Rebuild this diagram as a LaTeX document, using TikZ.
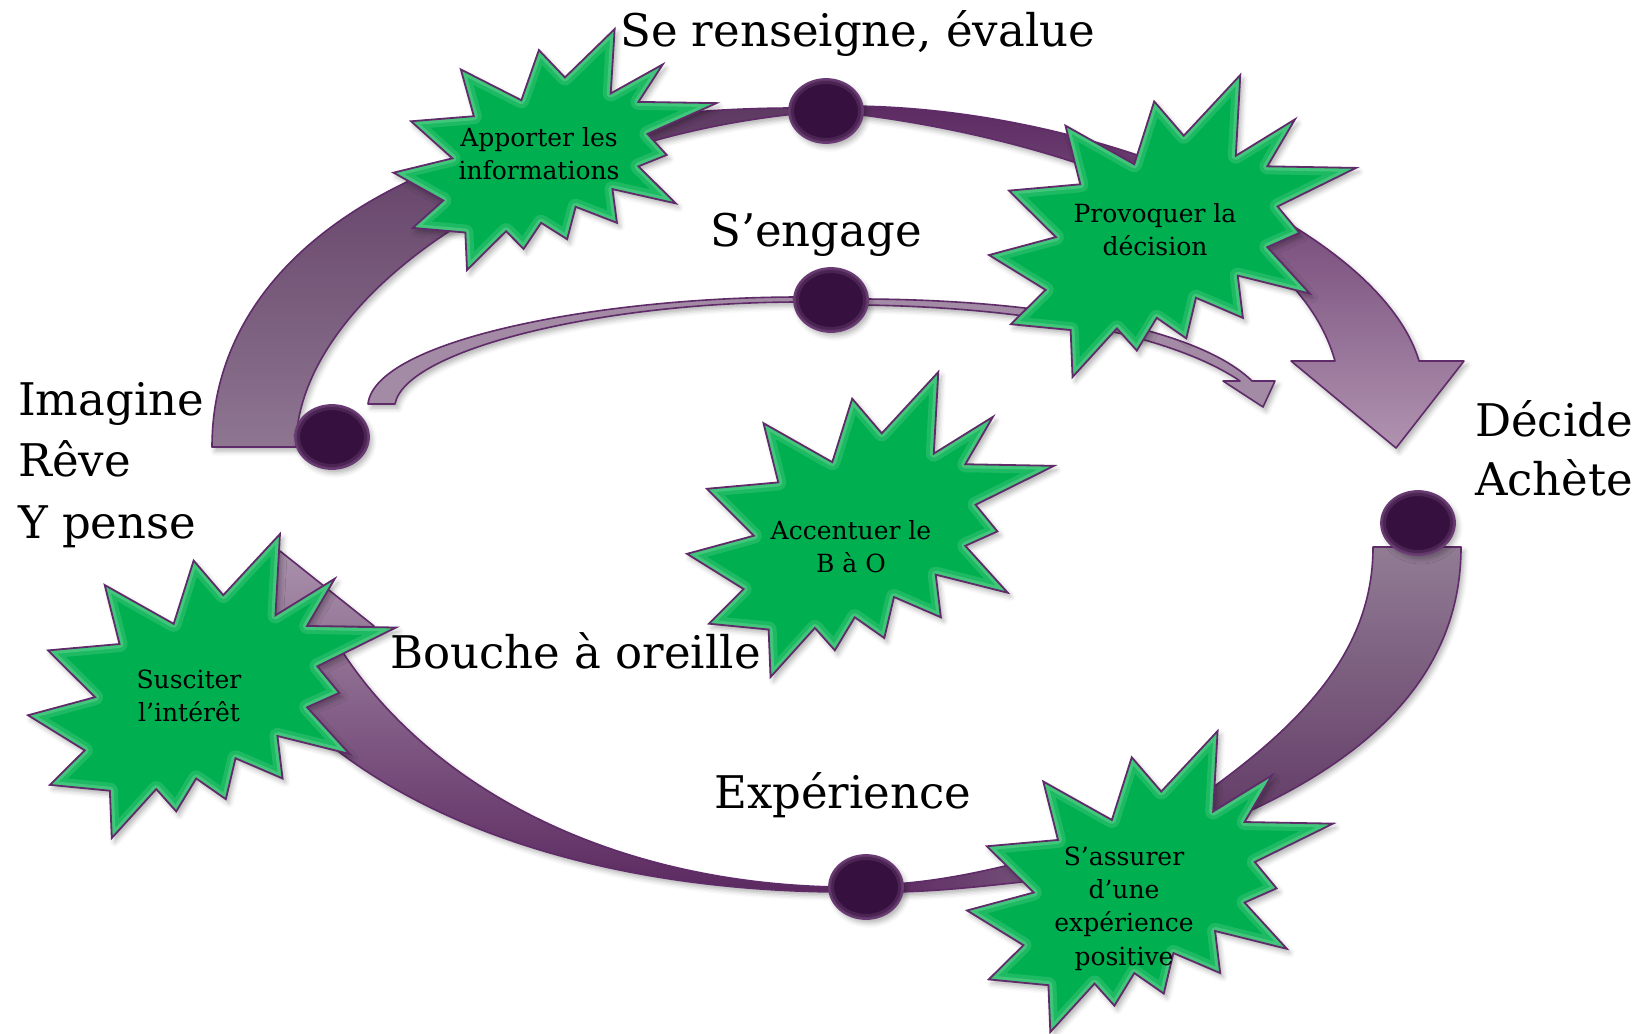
\documentclass[tikz,border=0pt]{standalone}
\usepackage{fontspec}
\setmainfont{DejaVu Serif}
\usetikzlibrary{shapes.geometric,shadows.blur}

\definecolor{edge}{HTML}{5F2B68}
\definecolor{starfill}{HTML}{00B050}
\definecolor{starlight}{HTML}{B8F0C8}
\definecolor{dotfill}{HTML}{36103E}
\definecolor{dotedge}{HTML}{6A3A74}
\definecolor{dotrim}{HTML}{8A6394}
\definecolor{lTop}{HTML}{5E3A62}
\definecolor{lBot}{HTML}{8E7691}
\definecolor{trTop}{HTML}{5C2B62}
\definecolor{trBot}{HTML}{B093B0}
\definecolor{rTop}{HTML}{917C94}
\definecolor{rBot}{HTML}{5E3562}
\definecolor{blTop}{HTML}{A991AB}
\definecolor{blBot}{HTML}{5B2960}
\definecolor{brLeft}{HTML}{5E2B63}
\definecolor{brRight}{HTML}{7A5A7E}
\definecolor{thinfill}{HTML}{A38BA6}

% Explosion outline (irregular seal) inside the box x0,y0,w,h (y grows downwards)
\newcommand\sealpath[4]{%
({#1+0.53065*#3},{#2+0.20102*#4}) --
({#1+0.68472*#3},{#2}) --
({#1+0.67245*#3},{#2+0.26745*#4}) --
({#1+0.83366*#3},{#2+0.14685*#4}) --
({#1+0.75833*#3},{#2+0.30241*#4}) --
({#1+#3},{#2+0.30764*#4}) --
({#1+0.78634*#3},{#2+0.43528*#4}) --
({#1+0.84583*#3},{#2+0.52269*#4}) --
({#1+0.75833*#3},{#2+0.56991*#4}) --
({#1+0.87394*#3},{#2+0.72370*#4}) --
({#1+0.67778*#3},{#2+0.66435*#4}) --
({#1+0.69176*#3},{#2+0.80417*#4}) --
({#1+0.56389*#3},{#2+0.73773*#4}) --
({#1+0.53759*#3},{#2+0.87231*#4}) --
({#1+0.45704*#3},{#2+0.80417*#4}) --
({#1+0.40278*#3},{#2+0.91259*#4}) --
({#1+0.34847*#3},{#2+0.83912*#4}) --
({#1+0.22764*#3},{#2+#4}) --
({#1+0.22245*#3},{#2+0.84444*#4}) --
({#1+0.05949*#3},{#2+0.82523*#4}) --
({#1+0.15417*#3},{#2+0.71157*#4}) --
({#1},{#2+0.59616*#4}) --
({#1+0.18218*#3},{#2+0.53667*#4}) --
({#1+0.05426*#3},{#2+0.38287*#4}) --
({#1+0.24870*#3},{#2+0.36190*#4}) --
({#1+0.20843*#3},{#2+0.16782*#4}) --
({#1+0.39583*#3},{#2+0.29546*#4}) --
({#1+0.45009*#3},{#2+0.08736*#4}) -- cycle}

% green burst with a soft inner glow
\newcommand\burst[4]{%
  \path[starbody] \sealpath{#1}{#2}{#3}{#4};
  \begin{scope}
    \clip \sealpath{#1}{#2}{#3}{#4};
    \draw[starlight, line width=16pt, opacity=.16, line join=round] \sealpath{#1}{#2}{#3}{#4};
    \draw[starlight, line width=8pt, opacity=.24, line join=round] \sealpath{#1}{#2}{#3}{#4};
  \end{scope}
  \draw[staredge] \sealpath{#1}{#2}{#3}{#4};
}

\begin{document}
\begin{tikzpicture}[x=1pt,y=-1pt,
  softshadow/.style={blur shadow={shadow xshift=3pt, shadow yshift=-4pt,
      shadow blur radius=5pt, shadow opacity=30}},
  band/.style={draw=edge, line width=1.6pt, line join=round, softshadow},
  starbody/.style={fill=starfill, softshadow},
  staredge/.style={draw=edge, line width=1.8pt, line join=miter},
  dot/.style={ellipse, draw=dotedge, line width=1.8pt, fill=dotfill,
      minimum width=74pt, minimum height=64pt, inner sep=0pt, softshadow,
      path picture={
        \draw[dotrim, opacity=.25, line width=10pt]
          (path picture bounding box.center) ellipse (37 and 32);
        \draw[dotrim, opacity=.3, line width=4pt]
          (path picture bounding box.center) ellipse (37 and 32);}},
  big/.style={font=\fontsize{45}{54}\selectfont, inner sep=0pt, anchor=base west},
  small/.style={font=\fontsize{25}{33}\selectfont, inner sep=0pt, anchor=base}]

\useasboundingbox (0,0) rectangle (1645,1033);

% ---- curved bands ----
% left band, rising towards the top stage
\draw[band, top color=lTop, bottom color=lBot]
  (212,447) .. controls (212,242) and (443,106) .. (805,108)
  -- (805,113) .. controls (520,140) and (296,300) .. (296,447) -- cycle;

% top band ending in the big arrow towards "Décide"
\draw[band, top color=trTop, bottom color=trBot]
  (845,106) .. controls (1100,106) and (1380,230) .. (1419,361)
  -- (1464,361) -- (1396,448) -- (1291,361) -- (1335,361)
  .. controls (1290,200) and (1000,130) .. (845,113) -- cycle;

% thin band through "S'engage"
\draw[band, fill=thinfill]
  (368,404) .. controls (375,340) and (600,297) .. (800,297)
  -- (865,299) .. controls (1050,300) and (1200,330) .. (1252,381)
  -- (1275,381) -- (1263,407) -- (1223,381) -- (1240,381)
  .. controls (1180,340) and (1050,308) .. (865,305)
  -- (800,302) .. controls (600,302) and (405,350) .. (395,404) -- cycle;

% right band going down from "Achète"
\draw[band, top color=rTop, bottom color=rBot]
  (1373,547) -- (1461,547) .. controls (1461,700) and (1330,790) .. (1150,850)
  -- (1150,830) .. controls (1290,740) and (1373,660) .. (1373,547) -- cycle;

% bottom band rising back to the left with its arrow head
\draw[band, top color=blTop, bottom color=blBot]
  (835,887) .. controls (600,882) and (420,780) .. (335,640)
  -- (374,626) -- (280,551) -- (215,680) -- (255,667)
  .. controls (350,800) and (560,889) .. (835,892) -- cycle;

% short band between the bottom stage and the last burst
\draw[band, left color=brLeft, right color=brRight]
  (895,884) .. controls (950,880) and (1000,868) .. (1060,852)
  -- (1060,878) .. controls (1000,884) and (950,891) .. (895,892) -- cycle;

% ---- stage dots ----
\node[dot] (dotTop) at (826,111) {};
\node[dot] (dotEngage) at (831,300) {};
\node[dot] (dotLeft) at (332,437) {};
\node[dot] (dotRight) at (1418,523) {};
\node[dot] (dotBottom) at (866,887) {};

% ---- bursts ----
\burst{393.5}{29}{323}{241}
\burst{989}{75}{367}{302}
\burst{687}{372}{367}{305}
\burst{28}{534}{368}{304}
\burst{967}{731}{366}{301}

% ---- burst texts ----
\node[small] (infoA) at (539,146) {Apporter les};
\node[small] (infoB) at (539,179) {informations};
\node[small] (decA) at (1155,222) {Provoquer la};
\node[small] (decB) at (1155,255) {décision};
\node[small] (bao1) at (851,539) {Accentuer le};
\node[small] (bao2) at (851,572) {B à O};
\node[small] (int1) at (189,688) {Susciter};
\node[small] (int2) at (189,721) {l’intérêt};
\node[small] (exp1) at (1124,865) {S’assurer};
\node[small] (exp2) at (1124,898) {d’une};
\node[small] (exp3) at (1124,931) {expérience};
\node[small] (exp4) at (1124,965) {positive};

% ---- stage labels ----
\node[big] (renseigne) at (620,47) {Se renseigne, évalue};
\node[big] (engage) at (710,246) {S’engage};
\node[big] (imagine) at (18,415) {Imagine};
\node[big] (reve) at (18,476) {Rêve};
\node[big] (ypense) at (18,538) {Y pense};
\node[big] (decide) at (1475,436) {Décide};
\node[big] (achete) at (1475,495) {Achète};
\node[big] (bouche) at (390,668) {Bouche à oreille};
\node[big] (experience) at (714,808) {Expérience};

\end{tikzpicture}
\end{document}
